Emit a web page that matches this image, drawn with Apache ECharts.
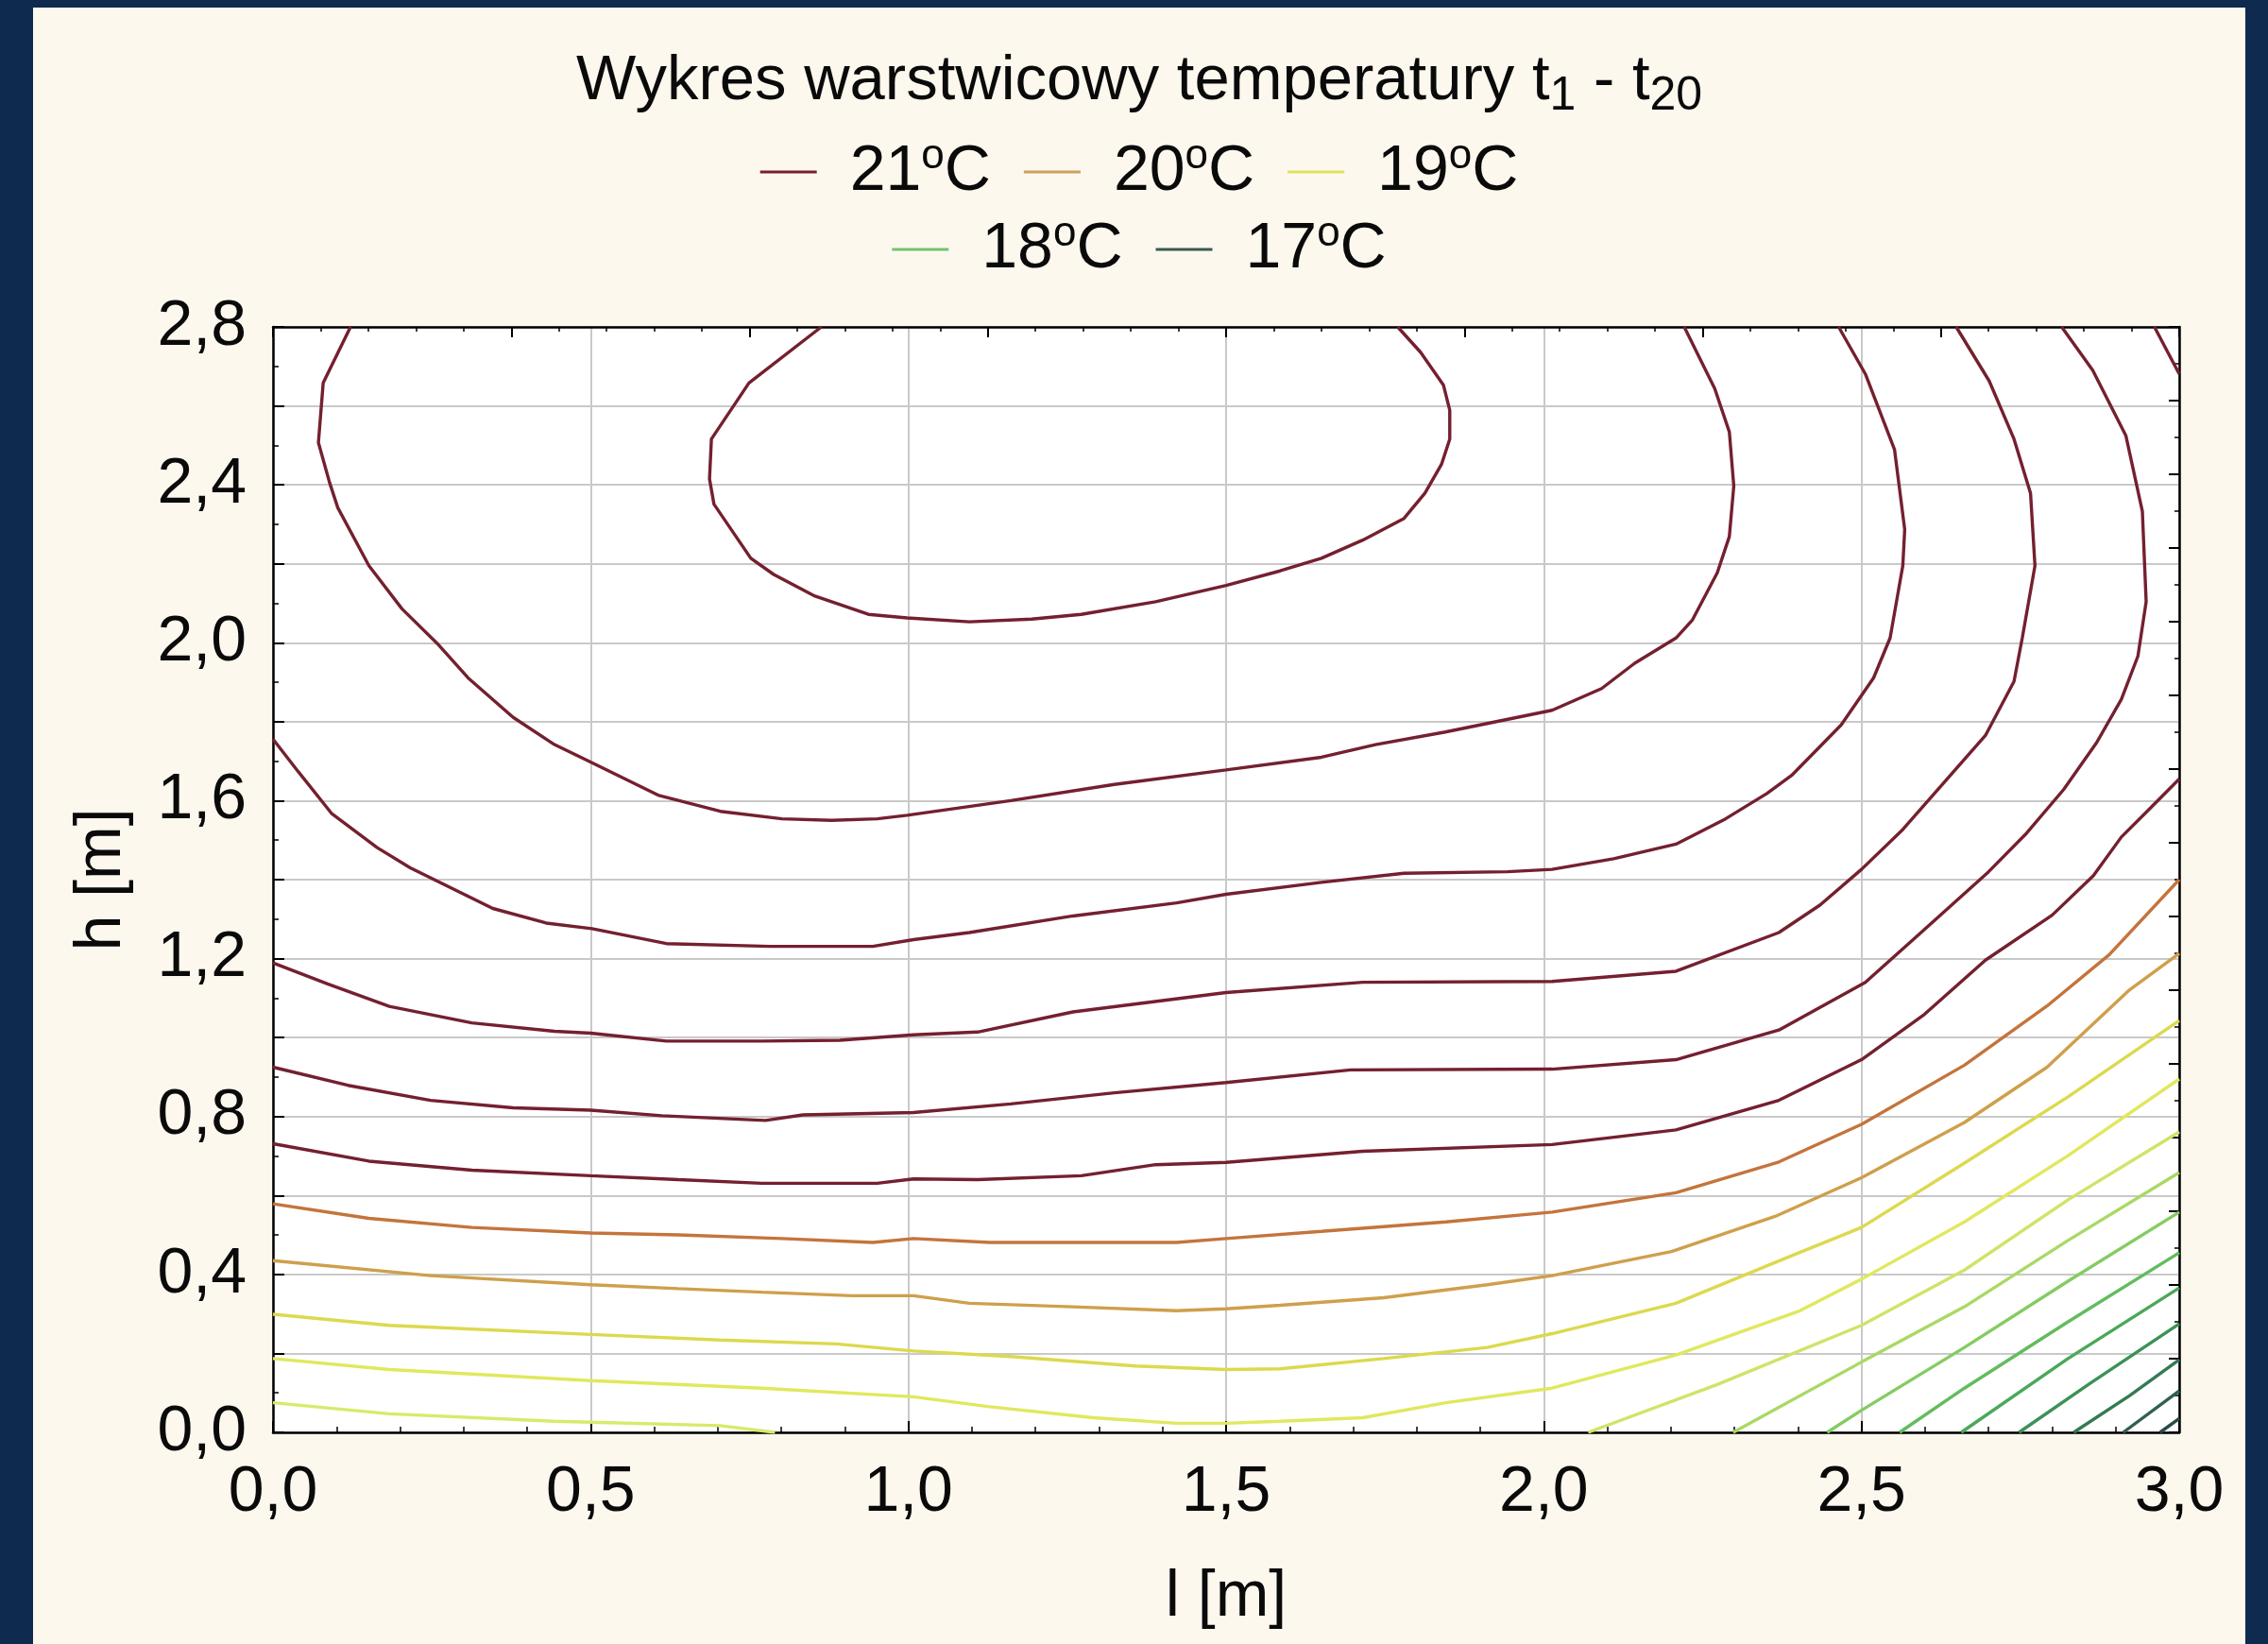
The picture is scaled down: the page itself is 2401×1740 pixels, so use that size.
<!DOCTYPE html>
<html><head><meta charset="utf-8">
<script src="https://cdn.jsdelivr.net/npm/echarts@6/dist/echarts.min.js"></script>
<style>
html,body{margin:0;padding:0;background:#0e2a4f;width:2401px;height:1740px;overflow:hidden}
#chart{position:absolute;left:35px;top:8px;width:2342px;height:1732px;background:#fcf8ee}
</style></head><body><div id="chart"></div>
<script>
// ---- data ----
const titleText = 'Wykres warstwicowy temperatury t{sub|1} - t{sub|20}';
const legendRow1 = ['21°C', '20°C', '19°C'];
const legendRow2 = ['18°C', '17°C'];
const xRange = [0, 3.0];
const yRange = [0, 2.8];

// contour lines [l, h]
const lineA = [[0.863,2.8],[0.749,2.658],[0.69,2.516],[0.687,2.415],[0.694,2.351],[0.752,2.214],[0.788,2.173],[0.853,2.118],[0.937,2.072],[0.998,2.063],[1.096,2.053],[1.194,2.06],[1.272,2.072],[1.389,2.104],[1.5,2.145],[1.585,2.182],[1.65,2.214],[1.715,2.26],[1.78,2.315],[1.813,2.379],[1.839,2.452],[1.852,2.516],[1.852,2.589],[1.842,2.653],[1.806,2.736],[1.77,2.8]];
const lineB = [[0.122,2.8],[0.079,2.658],[0.0715,2.507],[0.089,2.406],[0.102,2.342],[0.151,2.195],[0.203,2.086],[0.261,1.994],[0.307,1.911],[0.378,1.811],[0.443,1.742],[0.502,1.696],[0.606,1.614],[0.704,1.573],[0.801,1.554],[0.879,1.55],[0.951,1.554],[0.998,1.563],[1.161,1.6],[1.324,1.641],[1.5,1.678],[1.65,1.71],[1.735,1.742],[1.845,1.774],[2.013,1.829],[2.091,1.884],[2.143,1.948],[2.208,2.012],[2.234,2.058],[2.273,2.177],[2.292,2.269],[2.299,2.397],[2.292,2.534],[2.269,2.644],[2.221,2.8]];
const lineC = [[0,1.756],[0.04,1.673],[0.092,1.568],[0.164,1.481],[0.216,1.43],[0.346,1.327],[0.43,1.29],[0.502,1.276],[0.619,1.238],[0.782,1.231],[0.944,1.231],[1.008,1.248],[1.096,1.266],[1.259,1.308],[1.422,1.341],[1.5,1.363],[1.65,1.393],[1.78,1.416],[1.943,1.42],[2.013,1.426],[2.11,1.453],[2.208,1.49],[2.286,1.554],[2.351,1.618],[2.39,1.664],[2.468,1.792],[2.519,1.911],[2.545,2.012],[2.565,2.195],[2.568,2.287],[2.552,2.489],[2.506,2.681],[2.464,2.8]];
const lineD = [[0,1.189],[0.086,1.136],[0.183,1.079],[0.313,1.037],[0.443,1.016],[0.5,1.011],[0.619,0.991],[0.769,0.991],[0.892,0.993],[1.008,1.007],[1.109,1.014],[1.259,1.065],[1.5,1.114],[1.715,1.14],[2.013,1.142],[2.208,1.168],[2.37,1.266],[2.435,1.336],[2.5,1.426],[2.565,1.527],[2.63,1.646],[2.695,1.765],[2.74,1.902],[2.753,2.012],[2.773,2.195],[2.766,2.379],[2.74,2.516],[2.701,2.663],[2.649,2.8]];
const lineE = [[0,0.925],[0.118,0.879],[0.248,0.841],[0.378,0.822],[0.5,0.816],[0.612,0.802],[0.775,0.79],[0.834,0.804],[1.008,0.81],[1.161,0.832],[1.324,0.86],[1.5,0.886],[1.696,0.918],[2.013,0.92],[2.208,0.944],[2.37,1.019],[2.506,1.14],[2.597,1.271],[2.70,1.42],[2.76,1.518],[2.818,1.628],[2.87,1.747],[2.909,1.857],[2.935,1.966],[2.948,2.104],[2.942,2.333],[2.916,2.525],[2.864,2.69],[2.815,2.8]];
const lineF = [[0,0.731],[0.151,0.687],[0.313,0.664],[0.5,0.65],[0.638,0.64],[0.769,0.631],[0.951,0.631],[1.008,0.642],[1.109,0.64],[1.272,0.65],[1.389,0.678],[1.5,0.684],[1.715,0.712],[2.013,0.729],[2.208,0.766],[2.37,0.841],[2.5,0.944],[2.597,1.056],[2.695,1.196],[2.80,1.31],[2.865,1.41],[2.909,1.508],[2.955,1.582],[3.0,1.655]];
const lineF2 = [[2.961,2.8],[3.0,2.681]];
const lineG = [[0,0.579],[0.151,0.542],[0.313,0.519],[0.5,0.505],[0.638,0.5],[0.801,0.491],[0.944,0.481],[1.008,0.491],[1.128,0.481],[1.422,0.481],[1.5,0.491],[1.65,0.509],[1.846,0.533],[2.013,0.558],[2.208,0.607],[2.37,0.685],[2.5,0.78],[2.662,0.93],[2.792,1.08],[2.89,1.21],[3.0,1.40]];
const lineH = [[0,0.435],[0.248,0.397],[0.5,0.374],[0.638,0.364],[0.769,0.355],[0.911,0.346],[1.008,0.346],[1.096,0.327],[1.259,0.318],[1.422,0.308],[1.5,0.313],[1.585,0.322],[1.748,0.341],[1.911,0.374],[2.013,0.397],[2.201,0.458],[2.364,0.547],[2.5,0.645],[2.662,0.785],[2.792,0.925],[2.922,1.121],[3.0,1.213]];
const lineI = [[0,0.299],[0.183,0.271],[0.5,0.248],[0.703,0.234],[0.886,0.224],[1.008,0.206],[1.161,0.192],[1.357,0.168],[1.5,0.159],[1.585,0.161],[1.748,0.187],[1.911,0.215],[2.013,0.25],[2.208,0.327],[2.377,0.439],[2.5,0.519],[2.662,0.682],[2.825,0.85],[3.0,1.043]];
const lineJ = [[0,0.187],[0.183,0.159],[0.5,0.131],[0.769,0.112],[1.008,0.09],[1.128,0.065],[1.291,0.037],[1.422,0.023],[1.5,0.023],[1.585,0.028],[1.715,0.037],[1.846,0.075],[2.013,0.112],[2.208,0.196],[2.403,0.308],[2.5,0.388],[2.662,0.533],[2.825,0.701],[3.0,0.895]];
const lineK = [[0,0.075],[0.183,0.047],[0.443,0.028],[0.703,0.017],[0.79,0]];
const lineK2 = [[2.07,0],[2.273,0.121],[2.5,0.271],[2.662,0.411],[2.825,0.589],[3.0,0.761]];
const lineL = [[2.298,0],[2.5,0.178],[2.662,0.318],[2.825,0.486],[3.0,0.658]];
const lineM = [[2.446,0],[2.5,0.056],[2.662,0.215],[2.825,0.383],[3.0,0.558]];
const lineN = [[2.56,0],[2.662,0.112],[2.825,0.28],[3.0,0.455]];
const lineO = [[2.657,0],[2.825,0.187],[3.0,0.366]];
const lineP = [[2.748,0],[2.857,0.121],[3.0,0.275]];
const lineQ = [[2.834,0],[2.922,0.093],[3.0,0.184]];
const lineR = [[2.912,0],[3.0,0.105]];
const lineS = [[2.97,0],[3.0,0.035]];

// ---- styles ----
const RED = '#74202f';
const contourStyles = [
  [lineA, RED],[lineB, RED],[lineC, RED],[lineD, RED],[lineE, RED],[lineF, RED],[lineF2, RED],
  [lineG, '#c4743c'],[lineH, '#cf9f4c'],[lineI, '#dcd94e'],[lineJ, '#e0e85e'],
  [lineK, '#d8ea6a'],[lineK2, '#cfe468'],[lineL, '#a9d964'],[lineM, '#84cc62'],
  [lineN, '#62bc5e'],[lineO, '#4aa85a'],[lineP, '#3c9257'],[lineQ, '#347a53'],
  [lineR, '#2f6050'],[lineS, '#2b4a45']
];
const legendColors = {'21°C': RED, '20°C': '#cf9f5e', '19°C': '#dfe35a', '18°C': '#72c46c', '17°C': '#3a5a50'};

const FONT = '"Liberation Sans", Arial, sans-serif';
const INK = '#0a0a0a';
const fmt = v => v.toFixed(1).replace('.', ',');

const series = contourStyles.map((c, i) => ({
  name: 'izolinia ' + (i + 1), type: 'line', data: c[0], showSymbol: false, symbol: 'none',
  lineStyle: {color: c[1], width: 3.4}, itemStyle: {color: c[1]}, z: 3, clip: true, silent: true
}));
Object.keys(legendColors).forEach(n => {
  series.push({name: n, type: 'line', data: [], color: legendColors[n], lineStyle: {color: legendColors[n]}, itemStyle: {color: legendColors[n]}});
});

const legendText = {
  fontSize: 68, color: INK, fontFamily: FONT, lineHeight: 76, padding: [0, 0, 0, 30],
  rich: {sup: {fontSize: 44, fontFamily: FONT, color: INK, verticalAlign: 'top', lineHeight: 48}}
};
const legendBase = {
  left: 'center', icon: 'rect', itemWidth: 60, itemHeight: 3, itemGap: 35, selectedMode: false,
  textStyle: legendText, formatter: n => n.replace('°', '{sup|o}')
};

const tickStyle = {color: '#000', width: 2};
const option = {
  animation: false,
  textStyle: {fontFamily: FONT},
  title: {
    text: titleText, left: 'center', top: 34,
    textStyle: {fontSize: 67, fontWeight: 'normal', color: INK, fontFamily: FONT, lineHeight: 80,
      rich: {sub: {fontSize: 50, fontFamily: FONT, color: INK, verticalAlign: 'bottom'}}}
  },
  legend: [
    Object.assign({}, legendBase, {data: legendRow1, top: 131}),
    Object.assign({}, legendBase, {data: legendRow2, top: 213})
  ],
  grid: {left: 254, top: 338, width: 2018, height: 1170, show: true, backgroundColor: '#ffffff', borderWidth: 0},
  xAxis: [{
    type: 'value', min: xRange[0], max: xRange[1], interval: 0.5, position: 'bottom',
    axisLine: {show: true, onZero: false, lineStyle: {color: '#000', width: 2.5}},
    axisTick: {show: true, inside: true, length: 12, lineStyle: tickStyle},
    minorTick: {show: true, splitNumber: 5, length: 6, lineStyle: {color: '#000', width: 1.5}},
    axisLabel: {fontSize: 68, color: INK, margin: 30, formatter: fmt, fontFamily: FONT},
    splitLine: {show: true, lineStyle: {color: '#c9c9c9', width: 2}},
    name: 'l [m]', nameLocation: 'middle', nameGap: 141,
    nameTextStyle: {fontSize: 68, color: INK, fontFamily: FONT}
  }, {
    type: 'value', min: xRange[0], max: xRange[1], interval: 0.375, position: 'top',
    axisLine: {show: true, onZero: false, lineStyle: {color: '#000', width: 2.5}},
    axisTick: {show: true, inside: true, length: 11, lineStyle: tickStyle},
    minorTick: {show: true, splitNumber: 5, length: 5, lineStyle: {color: '#000', width: 1.5}},
    axisLabel: {show: false}, splitLine: {show: false}
  }],
  yAxis: [{
    type: 'value', min: yRange[0], max: yRange[1], interval: 0.2, position: 'left',
    axisLine: {show: true, onZero: false, lineStyle: {color: '#000', width: 2.5}},
    axisTick: {show: true, inside: true, length: 12, lineStyle: tickStyle},
    minorTick: {show: true, splitNumber: 2, length: 6, lineStyle: {color: '#000', width: 1.5}},
    axisLabel: {fontSize: 68, color: INK, margin: 28, fontFamily: FONT,
      formatter: v => (Math.abs(v / 0.4 - Math.round(v / 0.4)) < 1e-6 ? fmt(v) : '')},
    splitLine: {show: true, lineStyle: {color: '#c9c9c9', width: 2}},
    name: 'h [m]', nameLocation: 'middle', nameRotate: 90, nameGap: 147,
    nameTextStyle: {fontSize: 68, color: INK, fontFamily: FONT}
  }, {
    type: 'value', min: yRange[0], max: yRange[1], interval: 2.8 / 15, position: 'right',
    axisLine: {show: true, onZero: false, lineStyle: {color: '#000', width: 2.5}},
    axisTick: {show: true, inside: true, length: 11, lineStyle: tickStyle},
    minorTick: {show: true, splitNumber: 2, length: 5, lineStyle: {color: '#000', width: 1.5}},
    axisLabel: {show: false}, splitLine: {show: false}
  }],
  series: series
};
const chart = echarts.init(document.getElementById('chart'));
chart.setOption(option);
</script></body></html>
